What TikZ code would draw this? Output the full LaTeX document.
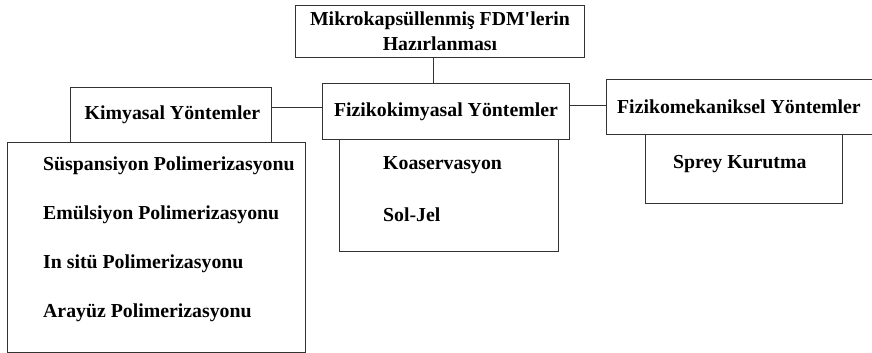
\documentclass[tikz,border=0pt]{standalone}
\usepackage{fontspec}
\setmainfont{Liberation Serif}

\begin{document}
\begin{tikzpicture}[x=1pt, y=-1pt,
    kutu/.style={draw=black!80, line width=0.9pt, rectangle, inner sep=0pt, anchor=north west,
        font=\fontsize{19.8}{25}\selectfont\bfseries, align=center},
    yazi/.style={anchor=west, inner sep=0pt, font=\fontsize{19.8}{25}\selectfont\bfseries}]
    \useasboundingbox (0,0) rectangle (872,353);
    \clip (0,0) rectangle (872,353);

    \node[kutu, minimum width=289pt, minimum height=52pt] (ana) at (295,5) {Mikrokapsüllenmiş FDM\textquotesingle lerin\\Hazırlanması\hspace{12pt}};
    \node[kutu, minimum width=247pt, minimum height=56pt] (fiziko) at (322,83) {Fizikokimyasal Yöntemler};
    \node[kutu, minimum width=201pt, minimum height=55pt] (kimya) at (70,87) {\hspace{3pt}Kimyasal Yöntemler};
    \node[kutu, minimum width=272pt, minimum height=55pt] (meka) at (606,79) {Fizikomekaniksel Yöntemler\hspace{7pt}};

    \node[kutu, minimum width=298pt, minimum height=210pt] (kimyaliste) at (7,142) {};
    \node[kutu, minimum width=219pt, minimum height=112pt] (fizikoliste) at (339,139) {};
    \node[kutu, minimum width=197pt, minimum height=69pt] (mekaliste) at (645,134) {};

    \node[yazi] (suspansiyon) at (43,166) {Süspansiyon Polimerizasyonu};
    \node[yazi] (emulsiyon) at (43,215) {Emülsiyon Polimerizasyonu};
    \node[yazi] (insitu) at (43,264) {In sitü Polimerizasyonu};
    \node[yazi] (arayuz) at (43,313) {Arayüz Polimerizasyonu};
    \node[yazi] (koaservasyon) at (383,165) {Koaservasyon};
    \node[yazi] (soljel) at (383,215) {Sol-Jel};
    \node[yazi] (sprey) at (673,164) {Sprey Kurutma};

    \draw[black!80, line width=0.9pt] ([xshift=-7pt]ana.south) -- ([xshift=-7pt]ana.south |- fiziko.north);
    \draw[black!80, line width=0.9pt] ([yshift=4pt]fiziko.west) -- ([yshift=4pt]fiziko.west -| kimya.east);
    \draw[black!80, line width=0.9pt] ([yshift=6pt]fiziko.east) -- ([yshift=6pt]fiziko.east -| meka.west);
\end{tikzpicture}
\end{document}
